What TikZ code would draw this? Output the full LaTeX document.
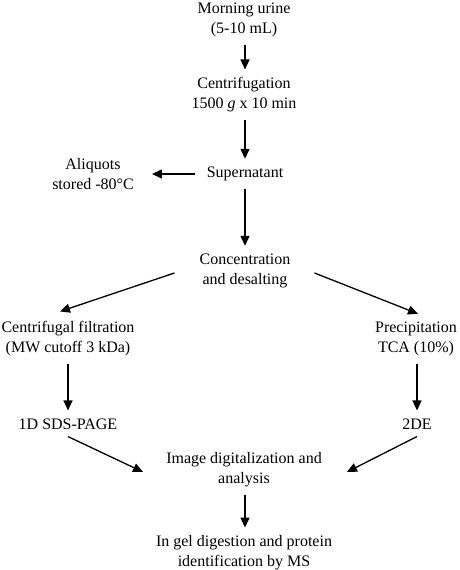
\documentclass[tikz,border=0pt]{standalone}
\usepackage{fontspec}
\setmainfont{Liberation Serif}
\usetikzlibrary{arrows.meta}
\begin{document}
\begin{tikzpicture}[x=1pt,y=-1pt,
  txt/.style={align=center,inner sep=0pt,font=\fontsize{16}{20}\selectfont},
  arr/.style={line width=1.3pt,-{Triangle[length=10pt,width=9pt]}},
  vert/.style={arr,shorten <=7.5pt,shorten >=8pt}]
\useasboundingbox (0,0) rectangle (460,570);
\node[txt] (urine) at (244,20) {Morning urine\\(5-10 mL)};
\node[txt] (centr) at (244,95) {Centrifugation\\1500 \textit{g} x 10 min};
\node[txt] (super) at (245,174) {Supernatant};
\node[txt] (aliq) at (93,174) {Aliquots\\stored -80°C};
\node[txt] (conc) at (245,271) {Concentration\\and desalting};
\node[txt] (filt) at (68,339) {Centrifugal filtration\\(MW cutoff 3 kDa)};
\node[txt] (prec) at (416,339) {Precipitation\\TCA (10\%)};
\node[txt] (sds) at (68,424) {1D SDS-PAGE};
\node[txt] (de) at (417,424) {2DE};
\node[txt] (img) at (244,470) {Image digitalization and\\analysis};
\node[txt] (gel) at (244,553) {In gel digestion and protein\\identification by MS};
\draw[vert] (urine.south -| 245,0) -- (centr.north -| 245,0);
\draw[vert] (centr.south -| 245,0) -- (super.north -| 245,0);
\draw[arr,shorten <=12pt,shorten >=18pt] (super.west) -- (aliq.east);
\draw[vert] (super.south -| 245,0) -- (conc.north -| 245,0);
\draw[arr] ([xshift=-25pt,yshift=-2pt]conc.west) -- ([xshift=-8pt,yshift=10pt]filt.north);
\draw[arr] ([xshift=24pt,yshift=-2pt]conc.east) -- ([xshift=2pt,yshift=8pt]prec.north);
\draw[vert] (filt.south) -- (sds.north);
\draw[vert] (prec.south -| de.north) -- (de.north);
\draw[arr] ([yshift=-7pt]sds.south) -- ([xshift=-23pt,yshift=-2pt]img.west);
\draw[arr] ([yshift=-7pt]de.south) -- ([xshift=25pt,yshift=-2pt]img.east);
\draw[vert] (img.south -| 245,0) -- (gel.north -| 245,0);
\end{tikzpicture}
\end{document}
